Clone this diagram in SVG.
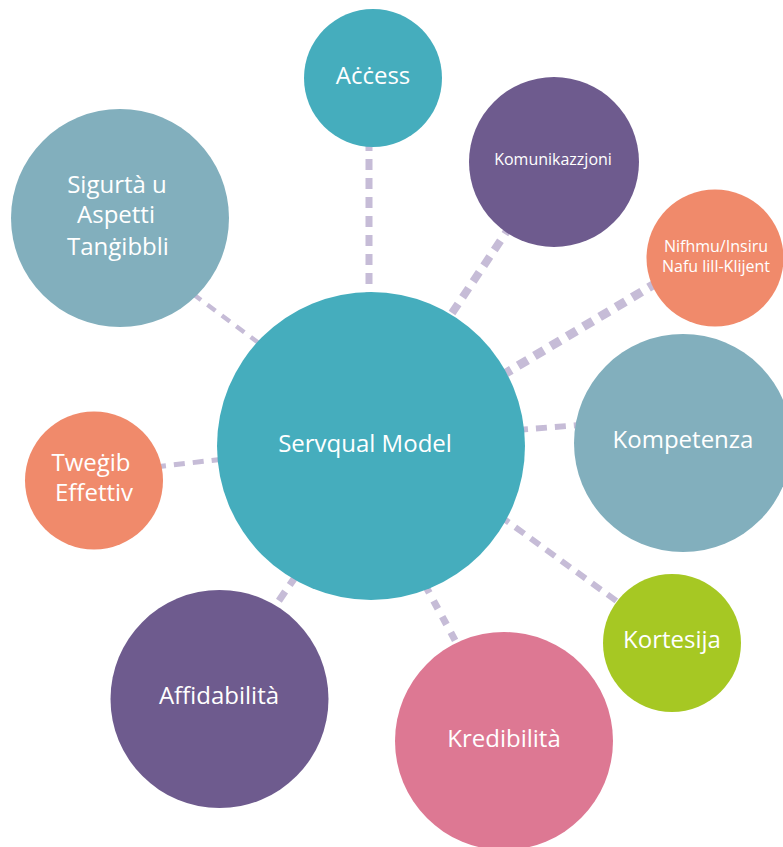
<svg xmlns="http://www.w3.org/2000/svg" width="783" height="847" viewBox="0 0 783 847">
<style>
.c line{stroke:#C6BCD7;fill:none;stroke-dasharray:11 8}
text{font-family:"Open Sans","Liberation Sans",sans-serif;fill:#FFFFFF;text-anchor:middle;font-size:24px}
.sm{font-size:16px}
.teal{fill:#45ADBD}.slate{fill:#82AFBD}.purple{fill:#6E5B8E}.orange{fill:#F08A6B}.green{fill:#A6C823}.pink{fill:#DD7893}
</style>
<rect width="783" height="847" fill="#FFFFFF"/>
<g id="connectors" class="c">
<line x1="369" y1="140" x2="369" y2="300" stroke-width="7"/>
<line x1="511" y1="225" x2="446" y2="322" stroke-width="8"/>
<line x1="658" y1="282" x2="506" y2="373" stroke-width="9"/>
<line x1="193" y1="294" x2="264" y2="347" stroke-width="4.5" style="stroke-dasharray:10 8"/>
<line x1="155" y1="467" x2="224" y2="459" stroke-width="5"/>
<line x1="517" y1="430" x2="580" y2="425" stroke-width="6"/>
<line x1="500" y1="516" x2="626" y2="608" stroke-width="6"/>
<line x1="425" y1="585" x2="456" y2="642" stroke-width="7" style="stroke-dasharray:9 9"/>
<line x1="296" y1="576" x2="271" y2="612" stroke-width="7"/>
</g>
<g id="access"><circle class="teal" cx="373" cy="78" r="69"/><text x="373" y="84">Aċċess</text></g>
<g id="komunikazzjoni"><circle class="purple" cx="554" cy="162" r="85"/><text class="sm" x="553" y="165">Komunikazzjoni</text></g>
<g id="nifhmu"><circle class="orange" cx="715" cy="258" r="68.5"/><text class="sm" x="716" y="252">Nifhmu/Insiru</text><text class="sm" x="716" y="272">Nafu lill-Klijent</text></g>
<g id="sigurta"><circle class="slate" cx="120" cy="218" r="109"/><text x="117" y="193">Sigurtà u</text><text x="116" y="223">Aspetti</text><text x="118" y="255">Tanġibbli</text></g>
<g id="kompetenza"><circle class="slate" cx="683" cy="443" r="109"/><text x="683" y="448">Kompetenza</text></g>
<g id="tweġib"><circle class="orange" cx="94" cy="480.5" r="69"/><text x="91" y="471">Tweġib</text><text x="94" y="501">Effettiv</text></g>
<g id="kortesija"><circle class="green" cx="672" cy="643" r="69"/><text x="672" y="648">Kortesija</text></g>
<g id="affidabilita"><circle class="purple" cx="219.5" cy="699" r="109"/><text x="219" y="704">Affidabilità</text></g>
<g id="kredibilita"><circle class="pink" cx="504" cy="741" r="109"/><text x="504" y="747">Kredibilità</text></g>
<g id="servqual"><circle class="teal" cx="371" cy="446" r="154"/><text x="365" y="452">Servqual Model</text></g>
</svg>
